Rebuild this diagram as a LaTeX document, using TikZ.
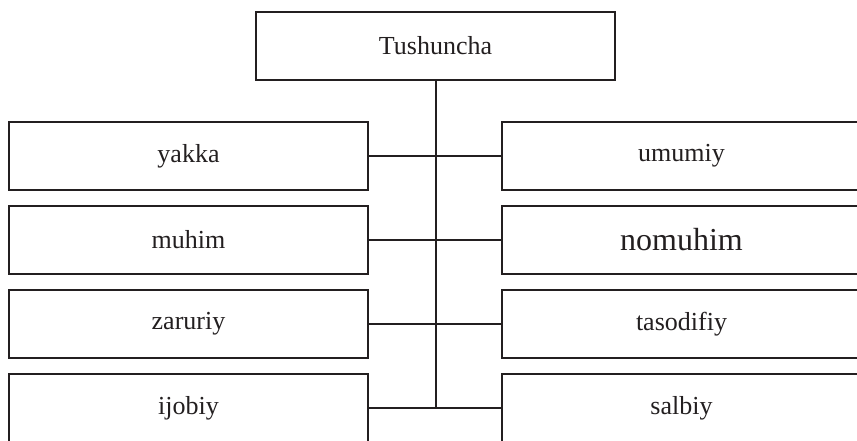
\documentclass[tikz,border=0pt]{standalone}
\usepackage{fontspec}
\setmainfont{Liberation Serif}
\usetikzlibrary{positioning}
\definecolor{ink}{HTML}{231F20}

\begin{document}
\begin{tikzpicture}[
    x=1pt, y=-1pt,
    node distance = 16pt and 134pt,
       box/.style = {draw=ink, line width=2pt, outer sep=0pt, text=ink,
                     minimum width=359pt, minimum height=68pt, align=center,
                     font=\fontsize{26}{30}\selectfont},
      link/.style = {draw=ink, line width=2pt}
                    ]
  \useasboundingbox (0,0) rectangle (857,440);
  \node [box]  at (435.5,46) (top) {Tushuncha};
  % left column
  \node [box, below=42pt of top, xshift=-247pt] (yakka)  {yakka};
  \node [box, below=of yakka]   (muhim)   {muhim};
  \node [box, below=of muhim]   (zaruriy) {zaruriy};
  \node [box, below=of zaruriy] (ijobiy)  {ijobiy};
  % right column
  \node [box, right=of yakka]   (umumiy)    {umumiy};
  \node [box, right=of muhim, font=\fontsize{32}{36}\selectfont] (nomuhim) {nomuhim};
  \node [box, right=of zaruriy] (tasodifiy) {tasodifiy};
  \node [box, right=of ijobiy]  (salbiy)    {salbiy};
  %---
  \draw [link] (top) -- (top |- ijobiy);
  \draw [link] (yakka) -- (umumiy);
  \draw [link] (muhim) -- (nomuhim);
  \draw [link] (zaruriy) -- (tasodifiy);
  \draw [link] (ijobiy) -- (salbiy);
\end{tikzpicture}
\end{document}
